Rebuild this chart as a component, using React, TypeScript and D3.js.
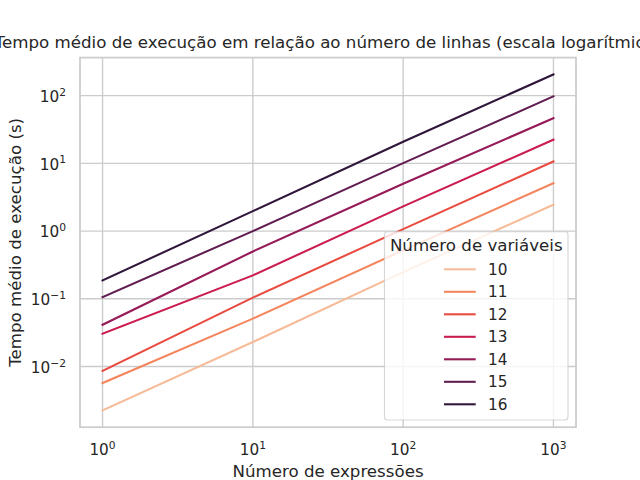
import { useEffect, useRef } from "react";
import * as d3 from "d3";

const EXPRESSIONS = [1, 10, 100, 1000];
const VARIABLES = [10, 11, 12, 13, 14, 15, 16];
const MEAN_TIMES = [
  [0.00225, 0.023, 0.248, 2.45],
  [0.0057, 0.051, 0.52, 5.1],
  [0.0086, 0.104, 1.07, 10.7],
  [0.0305, 0.222, 2.32, 22.4],
  [0.0414, 0.5, 5.0, 46.5],
  [0.106, 1.0, 10.1, 97.7],
  [0.187, 1.97, 20.9, 206],
];
const X_TICKS = [1, 10, 100, 1000];
const Y_TICKS = [0.01, 0.1, 1, 10, 100];
// rocket_r, 7 colours
const ROCKET_R = ["#f6bb98", "#f4855f", "#e94b40", "#cb1b4f", "#961a58", "#611d51", "#2f163a"];

const TITLE = "Tempo médio de execução em relação ao número de linhas (escala logarítmica)";
const X_LABEL = "Número de expressões";
const Y_LABEL = "Tempo médio de execução (s)";
const LEGEND_TITLE = "Número de variáveis";

const TEXT = "#262626";
const GRID = "#cccccc";
const FONT = "'DejaVu Sans', sans-serif";

function addPower(sel: d3.Selection<SVGTextElement, number, any, any>) {
  sel.each(function (d) {
    const e = Math.round(Math.log10(d));
    const t = d3.select(this);
    t.append("tspan").text("10");
    t.append("tspan")
      .attr("font-size", 10.7)
      .attr("dy", -6.3)
      .text(e < 0 ? `\u2212${-e}` : `${e}`);
  });
}

export default function App() {
  const ref = useRef<HTMLDivElement>(null);

  useEffect(() => {
    if (!ref.current) return;
    const container = ref.current;
    d3.select(container).select("svg").remove();

    const width = 640;
    const height = 480;
    const marginLeft = 80;
    const marginRight = 64;
    const marginTop = 57.6;
    const marginBottom = 52.8;

    // matplotlib-like 5% margins in log space
    const pad = (lo: number, hi: number) => {
      const a = Math.log10(lo), b = Math.log10(hi), m = (b - a) * 0.05;
      return [Math.pow(10, a - m), Math.pow(10, b + m)];
    };
    const allTimes = MEAN_TIMES.flat();
    const x = d3.scaleLog()
      .domain(pad(d3.min(EXPRESSIONS)!, d3.max(EXPRESSIONS)!))
      .range([marginLeft, width - marginRight]);
    const y = d3.scaleLog()
      .domain(pad(d3.min(allTimes)!, d3.max(allTimes)!))
      .range([height - marginBottom, marginTop]);

    const svg = d3.create("svg")
      .attr("width", width)
      .attr("height", height)
      .attr("viewBox", [0, 0, width, height])
      .attr("style", `position:absolute;left:0;top:0;font-family:${FONT};background:#fff`);

    svg.append("rect")
      .attr("width", width).attr("height", height).attr("fill", "#fff");

    // grid
    svg.append("g")
      .attr("stroke", GRID)
      .attr("stroke-width", 1.39)
      .call(g => g.selectAll("line.x")
        .data(X_TICKS)
        .join("line")
          .attr("x1", d => x(d)).attr("x2", d => x(d))
          .attr("y1", marginTop).attr("y2", height - marginBottom))
      .call(g => g.selectAll("line.y")
        .data(Y_TICKS)
        .join("line")
          .attr("class", "y")
          .attr("y1", d => y(d)).attr("y2", d => y(d))
          .attr("x1", marginLeft).attr("x2", width - marginRight));

    // series
    const line = d3.line<number>()
      .x((_, i) => x(EXPRESSIONS[i]))
      .y(d => y(d));
    svg.append("g")
      .attr("fill", "none")
      .attr("stroke-width", 2.08)
      .attr("stroke-linecap", "square")
      .selectAll("path")
      .data(MEAN_TIMES)
      .join("path")
        .attr("stroke", (_, i) => ROCKET_R[i])
        .attr("d", d => line(d));

    // spines
    svg.append("rect")
      .attr("x", marginLeft).attr("y", marginTop)
      .attr("width", width - marginLeft - marginRight)
      .attr("height", height - marginTop - marginBottom)
      .attr("fill", "none")
      .attr("stroke", GRID)
      .attr("stroke-width", 1.74);

    // tick labels
    svg.append("g")
      .attr("fill", TEXT)
      .attr("font-size", 15.28)
      .attr("text-anchor", "middle")
      .selectAll("text")
      .data(X_TICKS)
      .join("text")
        .attr("x", d => x(d))
        .attr("y", 455)
        .call(addPower);

    svg.append("g")
      .attr("fill", TEXT)
      .attr("font-size", 15.28)
      .attr("text-anchor", "end")
      .selectAll("text")
      .data(Y_TICKS)
      .join("text")
        .attr("x", 66)
        .attr("y", d => y(d) + 6.3)
        .call(addPower);

    // labels
    svg.append("text")
      .attr("x", (marginLeft + width - marginRight) / 2)
      .attr("y", 48)
      .attr("text-anchor", "middle")
      .attr("font-size", 16.67)
      .attr("fill", TEXT)
      .text(TITLE);

    svg.append("text")
      .attr("x", (marginLeft + width - marginRight) / 2)
      .attr("y", 477)
      .attr("text-anchor", "middle")
      .attr("font-size", 16.67)
      .attr("fill", TEXT)
      .text(X_LABEL);

    svg.append("text")
      .attr("transform", `translate(20.5,${(marginTop + height - marginBottom) / 2}) rotate(-90)`)
      .attr("text-anchor", "middle")
      .attr("font-size", 16.67)
      .attr("fill", TEXT)
      .text(Y_LABEL);

    // legend
    const lx = 384.5, ly = 231.7, lw = 183.5, lh = 188.3;
    const legend = svg.append("g");
    legend.append("rect")
      .attr("x", lx).attr("y", ly)
      .attr("width", lw).attr("height", lh)
      .attr("rx", 3)
      .attr("fill", "#fff").attr("fill-opacity", 0.8)
      .attr("stroke", GRID).attr("stroke-opacity", 0.8)
      .attr("stroke-width", 1.1);
    legend.append("text")
      .attr("x", lx + lw / 2)
      .attr("y", 251)
      .attr("text-anchor", "middle")
      .attr("font-size", 16.67)
      .attr("fill", TEXT)
      .text(LEGEND_TITLE);

    const row = d3.scalePoint<number>()
      .domain(VARIABLES)
      .range([269.3, 404.3]);
    const items = legend.selectAll("g.item")
      .data(VARIABLES)
      .join("g")
        .attr("transform", d => `translate(0,${row(d)})`);
    items.append("line")
      .attr("x1", 444).attr("x2", 475.7)
      .attr("stroke", (_, i) => ROCKET_R[i])
      .attr("stroke-width", 2.08);
    items.append("text")
      .attr("x", 488)
      .attr("y", 5.5)
      .attr("font-size", 15.28)
      .attr("fill", TEXT)
      .text(d => String(d));

    container.append(svg.node()!);
  }, []);

  return <div ref={ref} />;
}
